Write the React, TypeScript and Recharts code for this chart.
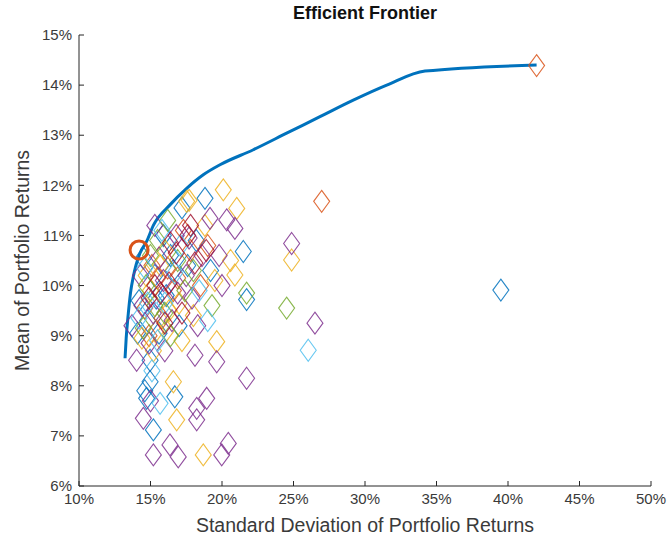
import { ComposedChart, Scatter, Line, XAxis, YAxis } from 'recharts';

// Frontier: [risk %, mean return %]
const frontier: [number, number][] = [
  [13.22, 8.55], [13.3, 8.95], [13.45, 9.45], [13.6, 9.85], [13.8, 10.18],
  [14.0, 10.42], [14.27, 10.65], [14.73, 10.88], [15.2, 11.2], [16.36, 11.61],
  [17.53, 11.94], [18.69, 12.21], [19.86, 12.41], [22.19, 12.71], [24.52, 13.04],
  [26.85, 13.37], [29.18, 13.7], [31.52, 14.0], [34.2, 14.28], [42.0, 14.4],
];

// Tangency / minimum-variance marker
const optimal: [number, number][] = [[14.2, 10.71]];

// Random portfolios grouped by plotting colour
const bluePortfolios: [number, number][] = [
  [39.5, 9.91], [18.81, 11.74], [21.49, 10.68], [14.97, 8.51], [14.97, 8.08],
  [14.73, 7.75], [16.7, 7.78], [15.2, 7.12], [17.2, 11.55], [14.5, 10.55],
  [15.3, 10.2], [16.1, 9.8], [14.8, 9.3], [17.6, 10.4], [15.6, 9.05],
  [18.2, 10.9], [16.4, 10.6], [14.2, 9.7], [19.2, 10.3], [15.9, 11.0],
  [17.0, 9.2], [21.72, 9.72], [14.6, 7.9], [15.4, 9.75], [16.6, 10.3],
  [14.1, 9.05],
];
const orangePortfolios: [number, number][] = [
  [42.0, 14.39], [26.97, 11.68], [15.1, 10.4], [16.6, 9.9], [17.8, 10.7],
  [14.6, 9.55], [16.2, 10.35], [18.5, 10.0], [15.8, 9.35], [17.3, 11.1],
  [16.9, 10.15], [19.0, 10.8], [15.5, 10.15], [14.9, 9.0],
];
const yellowPortfolios: [number, number][] = [
  [20.09, 11.91], [21.03, 11.54], [17.53, 11.68], [24.87, 10.51], [20.9, 10.21],
  [19.63, 8.88], [16.6, 8.08], [16.83, 7.32], [18.69, 6.62], [17.7, 11.7],
  [15.4, 9.1], [16.3, 9.5], [15.2, 8.7], [14.4, 8.95], [18.0, 9.4],
  [17.2, 8.9], [19.5, 10.1], [16.0, 10.7], [15.0, 9.9], [18.8, 11.2],
  [20.6, 10.5], [17.0, 9.65], [14.7, 10.2], [16.1, 9.1], [15.7, 10.4],
];
const purplePortfolios: [number, number][] = [
  [24.87, 10.84], [26.5, 9.25], [21.72, 8.15], [19.16, 11.34], [20.33, 11.31],
  [20.9, 11.14], [14.03, 8.51], [18.11, 8.61], [19.63, 8.48], [18.93, 7.75],
  [18.23, 7.55], [14.5, 7.35], [18.23, 7.32], [16.36, 6.82], [15.2, 6.62],
  [16.94, 6.58], [19.98, 6.62], [20.44, 6.85], [15.0, 7.7], [13.7, 9.2],
  [14.4, 9.6], [16.8, 11.0], [17.5, 10.2], [15.6, 10.55], [18.6, 10.6],
  [16.5, 9.3], [14.9, 8.85], [17.9, 9.75], [19.8, 10.6], [15.3, 11.2],
  [16.0, 8.7], [18.3, 9.2], [20.0, 10.0], [15.9, 10.1], [14.3, 10.2],
  [15.2, 9.45], [16.9, 9.85], [17.7, 10.95],
];
const greenPortfolios: [number, number][] = [
  [24.52, 9.55], [21.72, 9.85], [15.5, 10.9], [16.9, 10.5], [14.7, 10.0],
  [18.0, 10.3], [15.3, 9.6], [16.4, 9.0], [17.4, 9.9], [19.3, 9.6],
  [14.5, 9.15], [16.2, 11.3], [15.0, 10.6], [16.0, 9.45],
];
const cyanPortfolios: [number, number][] = [
  [26.03, 8.71], [15.67, 7.65], [15.1, 8.3], [14.6, 10.35], [16.0, 9.65],
  [17.1, 10.8], [15.5, 8.9], [18.4, 9.9], [14.2, 9.35], [16.7, 10.25],
  [19.0, 9.3], [15.8, 11.1], [14.8, 9.65],
];
const redPortfolios: [number, number][] = [
  [17.6, 11.0], [16.4, 10.85], [18.1, 10.45], [15.7, 9.85], [17.2, 9.45],
  [16.3, 10.05], [18.9, 10.7], [14.9, 9.75], [17.8, 11.2], [16.0, 9.25],
  [16.8, 10.65], [15.3, 10.0],
];

const xTicks = [10, 15, 20, 25, 30, 35, 40, 45, 50];
const yTicks = [6, 7, 8, 9, 10, 11, 12, 13, 14, 15];

const FONT = '"Liberation Sans", Arial, Helvetica, sans-serif';
const AXIS = '#262626';
const TEXT = '#3a3a3a';

const toPoints = (rows: [number, number][]) => rows.map(([risk, ret]) => ({ risk, ret }));

const groups = [
  { name: 'blue', color: '#0072BD', rows: bluePortfolios },
  { name: 'orange', color: '#D95319', rows: orangePortfolios },
  { name: 'yellow', color: '#EDB120', rows: yellowPortfolios },
  { name: 'purple', color: '#7E2F8E', rows: purplePortfolios },
  { name: 'green', color: '#77AC30', rows: greenPortfolios },
  { name: 'cyan', color: '#4DBEEE', rows: cyanPortfolios },
  { name: 'red', color: '#A2142F', rows: redPortfolios },
];

const diamond = (color: string) => (props: any) => {
  const { cx, cy } = props;
  if (cx == null || cy == null) return <g />;
  const w = 8;
  const h = 11;
  return (
    <path
      d={`M${cx},${cy - h} L${cx + w},${cy} L${cx},${cy + h} L${cx - w},${cy} Z`}
      fill="none"
      stroke={color}
      strokeWidth={1.1}
      strokeOpacity={0.85}
    />
  );
};

const ring = (props: any) => {
  const { cx, cy } = props;
  if (cx == null || cy == null) return <g />;
  return <circle cx={cx} cy={cy} r={9} fill="none" stroke="#D95319" strokeWidth={3} />;
};

// Tick marks point into the plot, MATLAB style
const XTick = (props: any) => {
  const { x, y, payload } = props;
  const axisY = y - 6;
  return (
    <g>
      <line x1={x} y1={axisY} x2={x} y2={axisY - 5} stroke={AXIS} />
      <text x={x} y={y} dy="0.8em" textAnchor="middle" fill={TEXT} fontSize={15} fontFamily={FONT}>
        {`${payload.value}%`}
      </text>
    </g>
  );
};

const YTick = (props: any) => {
  const { x, y, payload } = props;
  const axisX = x + 7;
  return (
    <g>
      <line x1={axisX} y1={y} x2={axisX + 5} y2={y} stroke={AXIS} />
      <text x={x} y={y} dy="0.35em" textAnchor="end" fill={TEXT} fontSize={15} fontFamily={FONT}>
        {`${payload.value}%`}
      </text>
    </g>
  );
};

export default function App() {
  return (
    <div style={{ position: 'absolute', left: 0, top: 0, width: 668, height: 543, background: '#fff' }}>
      <div
        style={{
          position: 'absolute',
          left: 79,
          width: 572,
          top: 3,
          textAlign: 'center',
          fontFamily: FONT,
          fontWeight: 'bold',
          fontSize: 18,
          color: '#111',
        }}
      >
        Efficient Frontier
      </div>
      <ComposedChart width={668} height={543} margin={{ top: 35, right: 17, left: 0, bottom: 0 }}>
        <XAxis
          type="number"
          dataKey="risk"
          domain={[10, 50]}
          ticks={xTicks}
          allowDataOverflow
          height={57}
          tickSize={0}
          tickMargin={6}
          tickLine={false}
          tick={<XTick />}
          axisLine={{ stroke: AXIS }}
          label={{
            value: 'Standard Deviation of Portfolio Returns',
            position: 'insideBottom',
            offset: 11,
            style: { fontFamily: FONT, fontSize: 19.5, fill: TEXT },
          }}
        />
        <YAxis
          type="number"
          dataKey="ret"
          domain={[6, 15]}
          ticks={yTicks}
          allowDataOverflow
          width={79}
          tickSize={0}
          tickMargin={7}
          tickLine={false}
          tick={<YTick />}
          axisLine={{ stroke: AXIS }}
          label={{
            value: 'Mean of Portfolio Returns',
            angle: -90,
            position: 'insideLeft',
            offset: 22,
            style: { fontFamily: FONT, fontSize: 19.5, fill: TEXT, textAnchor: 'middle' },
          }}
        />
        {groups.map((g) => (
          <Scatter
            key={g.name}
            name={g.name}
            data={toPoints(g.rows)}
            dataKey="ret"
            shape={diamond(g.color)}
            isAnimationActive={false}
          />
        ))}
        <Line
          data={toPoints(frontier)}
          dataKey="ret"
          type="monotone"
          stroke="#0072BD"
          strokeWidth={3}
          dot={false}
          activeDot={false}
          isAnimationActive={false}
        />
        <Scatter data={toPoints(optimal)} dataKey="ret" shape={ring} isAnimationActive={false} />
      </ComposedChart>
    </div>
  );
}
